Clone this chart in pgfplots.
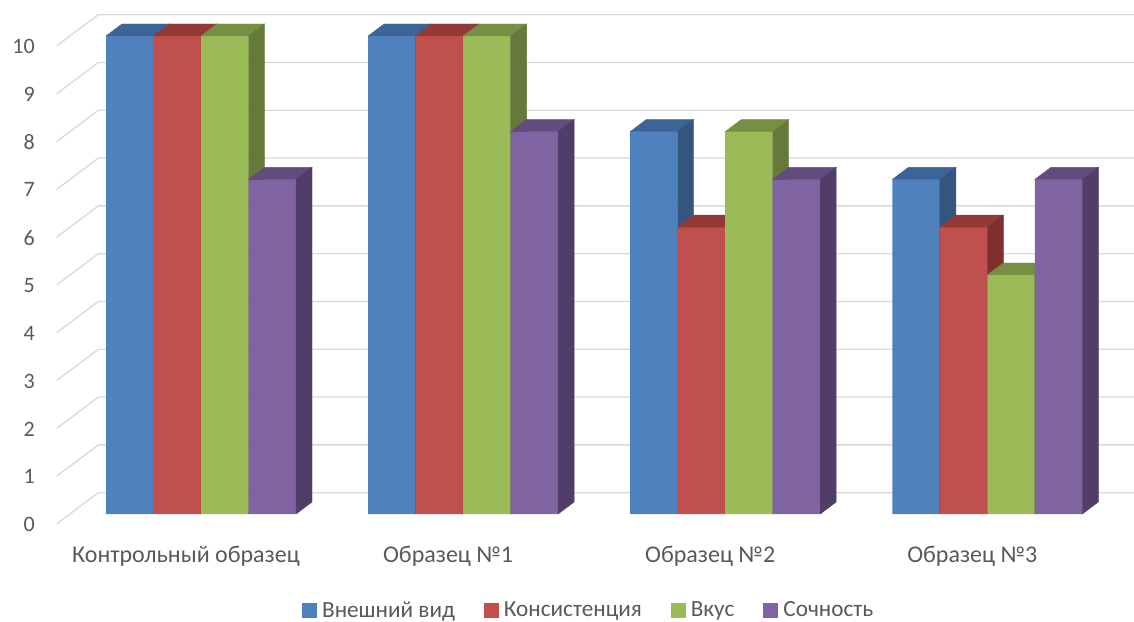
\documentclass[border=0pt]{standalone}
\usepackage{fontspec}
\setmainfont{Carlito}
\usepackage{pgfplots}
\usepackage{pgfplotstable}
\pgfplotsset{compat=1.18}

\definecolor{txt}{HTML}{595959}
\definecolor{gridc}{HTML}{D9D9D9}
\definecolor{bluF}{HTML}{4F81BD}\definecolor{bluT}{HTML}{3D6496}\definecolor{bluS}{HTML}{345580}
\definecolor{redF}{HTML}{C0504D}\definecolor{redT}{HTML}{933A38}\definecolor{redS}{HTML}{7D302E}
\definecolor{grnF}{HTML}{9BBB59}\definecolor{grnT}{HTML}{768F44}\definecolor{grnS}{HTML}{657939}
\definecolor{vioF}{HTML}{8064A2}\definecolor{vioT}{HTML}{624C7D}\definecolor{vioS}{HTML}{503E68}

% scores per sample (columns: appearance, consistency, taste, juiciness)
\pgfplotstableread{
g  vid  kons  vkus  soch
0  10   10    10    7
1  10   10    10    8
2  8    6     8     7
3  7    6     5     7
}\scores

\pgfdeclareplotmark{nothing}{}

\def\bw{47.5pt}  % bar width
\def\dx{16pt}    % depth offset of the bar back, x
\def\dy{12pt}    % depth offset of the bar back, y
\def\yu{47.8pt}  % one unit on the value axis

\pgfplotsset{
  front/.style n args={2}{ybar, bar width=\bw, bar shift=#1pt, draw=none, fill=#2},
  % top and right faces of each bar, drawn at the bar's top point
  depth/.style n args={3}{forget plot, scatter, only marks, mark=nothing,
    visualization depends on={rawy \as \barval},
    scatter/@pre marker code/.code={
      \fill[#2] (#1pt-\bw/2,0pt) -- (#1pt+\bw/2,0pt) -- (#1pt+\bw/2+\dx,\dy) -- (#1pt-\bw/2+\dx,\dy) -- cycle;
      \fill[#3] (#1pt+\bw/2,0pt) -- (#1pt+\bw/2+\dx,\dy) -- (#1pt+\bw/2+\dx,\dy-\barval*\yu) -- (#1pt+\bw/2,-\barval*\yu) -- cycle;
    },
    scatter/@post marker code/.code={}},
}

\begin{document}
\begin{tikzpicture}
\useasboundingbox (0pt,0pt) rectangle (1134pt,621pt);
\begin{axis}[
  at={(201pt,107pt)}, anchor=origin,
  x=262.1pt, y=\yu,
  xmin=-0.5, xmax=3.5, ymin=0, ymax=10.5,
  clip=false, clip mode=individual,
  axis line style={draw=none},
  major tick style={draw=none},
  xtick={0,1,2,3},
  xticklabels={Контрольный образец, Образец №1, Образец №2, Образец №3},
  ytick={0,1,...,10},
  /pgf/number format/assume math mode=true,
  xticklabel style={anchor=base, inner sep=0pt, xshift=-15pt, yshift=-48pt,
    font=\fontsize{24}{28}\selectfont, text=txt},
  yticklabel style={anchor=east, inner sep=0pt, xshift=-35pt, yshift=-10.5pt,
    font=\fontsize{22}{26}\selectfont, text=txt},
  legend columns=4,
  legend image code/.code={\fill[#1] (0pt,-7.5pt) rectangle (15pt,7.5pt);},
  legend style={at={(0.2213,-0.1913)}, anchor=west, draw=none, fill=none,
    inner sep=0pt, font=\fontsize{23.2}{27}\selectfont, text=txt,
    nodes={inner sep=0pt},
    /tikz/every odd column/.append style={column sep=5pt},
    /tikz/every even column/.append style={column sep=29pt}},
]
% walls: diagonal floor-to-wall lines and back wall lines
\pgfplotsinvokeforeach{0,...,10}{
  \draw[gridc, line width=1.3pt] (axis cs:-0.5,#1) ++(-13.3pt,-10pt) -- ++(41.7pt,31.3pt) -- ++(1100pt,0pt);
}
\addplot[front={-71.25}{bluF}] table[x=g, y=vid] {\scores};
\addplot[depth={-71.25}{bluT}{bluS}] table[x=g, y=vid] {\scores};
\addplot[front={-23.75}{redF}] table[x=g, y=kons] {\scores};
\addplot[depth={-23.75}{redT}{redS}] table[x=g, y=kons] {\scores};
\addplot[front={23.75}{grnF}] table[x=g, y=vkus] {\scores};
\addplot[depth={23.75}{grnT}{grnS}] table[x=g, y=vkus] {\scores};
\addplot[front={71.25}{vioF}] table[x=g, y=soch] {\scores};
\addplot[depth={71.25}{vioT}{vioS}] table[x=g, y=soch] {\scores};
\legend{Внешний вид, Консистенция, Вкус, Сочность}
\end{axis}
\end{tikzpicture}
\end{document}
